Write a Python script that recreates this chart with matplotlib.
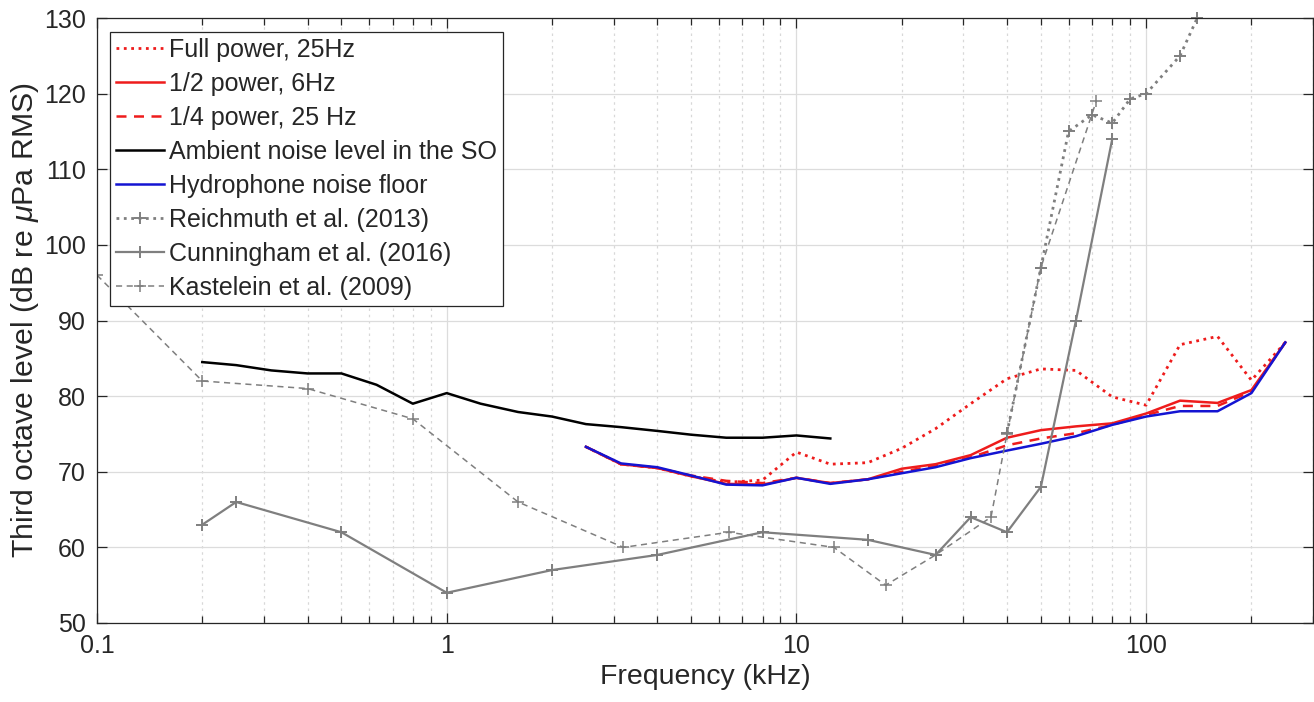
import matplotlib
matplotlib.use("Agg")
import matplotlib.pyplot as plt
from matplotlib.ticker import FixedLocator, LogLocator, NullFormatter, FuncFormatter

plt.rcParams['font.family'] = ['Liberation Sans', 'DejaVu Sans']
plt.rcParams['mathtext.fontset'] = 'custom'
plt.rcParams['mathtext.rm'] = 'Liberation Sans'
plt.rcParams['mathtext.it'] = 'Liberation Sans:italic'

# ---------------- data ----------------
amb_f = [0.2, 0.25, 0.315, 0.4, 0.5, 0.63, 0.8, 1, 1.25, 1.6, 2, 2.5, 3.15, 4, 5, 6.3, 8, 10, 12.5]
amb_db = [84.5, 84.1, 83.4, 83.0, 83.0, 81.5, 79.0, 80.4, 79.0, 77.9, 77.3, 76.3, 75.9, 75.4, 74.9, 74.5, 74.5, 74.8, 74.4]

rec_f = [2.5, 3.15, 4, 5, 6.3, 8, 10, 12.5, 16, 20, 25, 31.5, 40, 50, 63, 80, 100, 125, 160, 200, 250]
full_db = [73.3, 71.0, 70.5, 69.4, 68.6, 68.9, 72.6, 71.0, 71.2, 73.1, 75.7, 79.0, 82.3, 83.6, 83.4, 79.9, 78.8, 86.8, 87.9, 82.1, 87.1]
half_db = [73.3, 71.0, 70.5, 69.4, 68.4, 68.3, 69.2, 68.5, 69.0, 70.4, 71.0, 72.2, 74.5, 75.5, 76.0, 76.4, 77.7, 79.4, 79.1, 80.8, 87.1]
quarter_db = [73.3, 71.0, 70.5, 69.5, 68.8, 68.5, 69.2, 68.5, 69.0, 70.0, 70.8, 71.9, 73.5, 74.4, 75.1, 76.2, 77.5, 78.7, 78.7, 80.6, 87.1]
hyd_db = [73.3, 71.1, 70.6, 69.5, 68.3, 68.2, 69.2, 68.4, 69.0, 69.8, 70.6, 71.8, 72.8, 73.7, 74.7, 76.2, 77.3, 78.0, 78.0, 80.4, 87.1]

reich_f = [40, 50, 60, 70, 80, 90, 100, 125, 140]
reich_db = [75.1, 97.0, 115.0, 117.2, 116.1, 119.3, 120.0, 125.0, 130.0]

cunn_f = [0.2, 0.25, 0.5, 1, 2, 4, 8, 16, 25, 31.5, 40, 50, 63, 80]
cunn_db = [63, 66, 62, 54, 57, 59, 62, 61, 59, 64, 62, 68, 90, 114]

kast_f = [0.1, 0.2, 0.4, 0.8, 1.6, 3.2, 6.4, 12.8, 18, 25, 36, 40, 50, 72]
kast_db = [96, 82, 81, 77, 66, 60, 62, 60, 55, 59, 64, 75, 97, 119]

labels = ['Full power, 25Hz', '1/2 power, 6Hz', '1/4 power, 25 Hz',
          'Ambient noise level in the SO', 'Hydrophone noise floor',
          'Reichmuth et al. (2013)', 'Cunningham et al. (2016)', 'Kastelein et al. (2009)']

x_ticks = [0.1, 1, 10, 100]
y_ticks = [50, 60, 70, 80, 90, 100, 110, 120, 130]

# ---------------- figure ----------------
RED = '#ee1c1c'
BLUE = '#1414d2'
GREY = '#7f7f7f'
DARK = '#262626'

fig = plt.figure(figsize=(13.14, 7.02), dpi=100)
ax = fig.add_axes([97/1314, 1 - 623/702, 1216/1314, 605/702])

ax.plot(rec_f, full_db, ':', color=RED, lw=2.0, label=labels[0])
ax.plot(rec_f, half_db, '-', color=RED, lw=1.8, label=labels[1])
ax.plot(rec_f, quarter_db, '--', color=RED, lw=1.8, dashes=(4, 3), label=labels[2])
ax.plot(amb_f, amb_db, '-', color='black', lw=1.8, label=labels[3])
ax.plot(rec_f, hyd_db, '-', color=BLUE, lw=1.8, label=labels[4])
ax.plot(reich_f, reich_db, ':', color=GREY, lw=2.0, marker='+', ms=9, mew=1.4,
        label=labels[5], clip_on=False)
ax.plot(cunn_f, cunn_db, '-', color=GREY, lw=1.6, marker='+', ms=9, mew=1.4, label=labels[6])
ax.plot(kast_f, kast_db, '--', color=GREY, lw=1.1, dashes=(4, 3), marker='+', ms=9, mew=1.1,
        label=labels[7])

ax.set_xscale('log')
ax.set_xlim(0.1, 300)
ax.set_ylim(50, 130)
ax.xaxis.set_major_locator(FixedLocator(x_ticks))
ax.xaxis.set_major_formatter(FuncFormatter(lambda v, p: '%g' % v))
ax.xaxis.set_minor_locator(LogLocator(base=10, subs=range(2, 10), numticks=20))
ax.xaxis.set_minor_formatter(NullFormatter())
ax.yaxis.set_major_locator(FixedLocator(y_ticks))

ax.grid(True, which='major', color='#dcdcdc', lw=0.9, ls='-')
ax.grid(True, which='minor', axis='x', color='#d8d8d8', lw=0.9, ls=(0, (2, 3)))
ax.set_axisbelow(True)

ax.tick_params(which='both', direction='in', top=True, right=True, colors=DARK,
               labelsize=18, width=0.9)
ax.tick_params(which='major', length=7, pad=8)
ax.tick_params(which='minor', length=5)
for s in ax.spines.values():
    s.set_color(DARK)
    s.set_linewidth(0.9)

ax.set_xlabel('Frequency (kHz)', fontsize=20.5, color=DARK, labelpad=4)
ax.set_ylabel(r'Third octave level (dB re $\mu$Pa RMS)', fontsize=21.8, color=DARK, labelpad=2)

leg = ax.legend(loc='upper left', bbox_to_anchor=(0.0107, 0.977), borderaxespad=0,
                fontsize=18, frameon=True, fancybox=False, shadow=False,
                handlelength=1.9, handletextpad=0.2, borderpad=0.25, labelspacing=0.4,
                numpoints=1, framealpha=1)
leg.get_frame().set_edgecolor(DARK)
leg.get_frame().set_linewidth(0.9)
for t in leg.get_texts():
    t.set_color(DARK)

fig.savefig('out.png', dpi=100)
